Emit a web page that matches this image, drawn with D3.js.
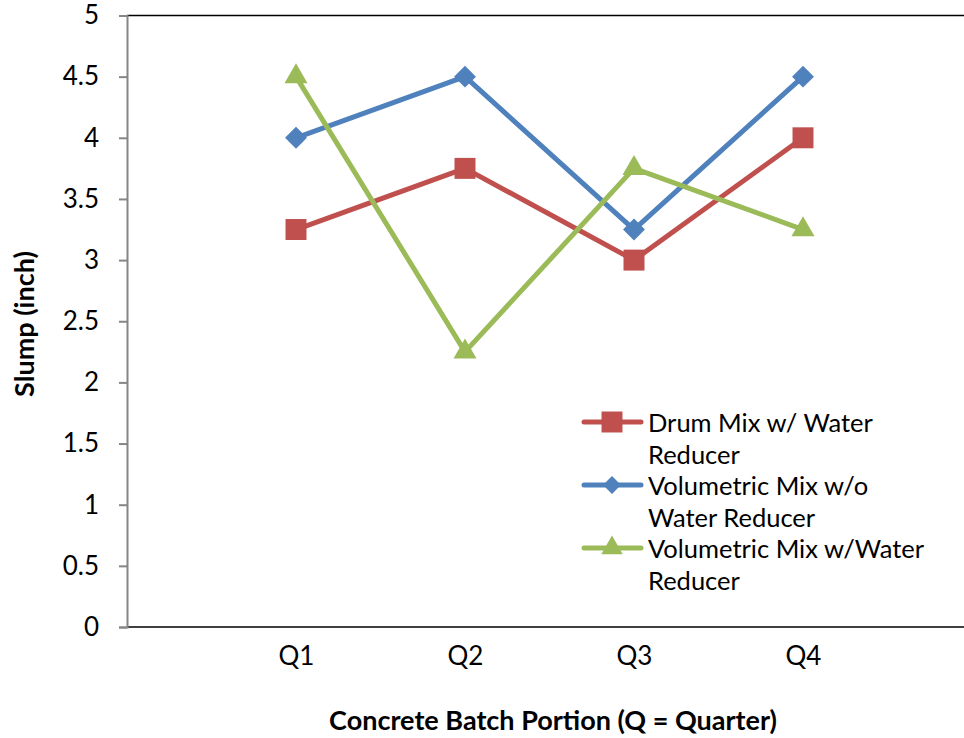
<!DOCTYPE html>
<html><head><meta charset="utf-8">
<script src="https://cdn.jsdelivr.net/npm/d3@7"></script>
<style>body{margin:0;background:#fff}svg{display:block}text{font-family:Lato,"Open Sans",sans-serif}</style>
</head><body>
<svg id="c" width="964" height="738"></svg>
<script>
const categories = ["Q1","Q2","Q3","Q4"];
const drumMix = [3.25, 3.75, 3.0, 4.0];
const volNoReducer = [4.0, 4.5, 3.25, 4.5];
const volReducer = [4.5, 2.25, 3.75, 3.25];
const seriesNames = [["Drum Mix w/ Water","Reducer"],["Volumetric Mix w/o","Water Reducer"],["Volumetric Mix w/Water","Reducer"]];
const yTicks = [0,0.5,1,1.5,2,2.5,3,3.5,4,4.5,5];

(function(){
const series = [
  {name: seriesNames[0], values: drumMix, color: "#C0504D", sym: d3.symbolSquare, size: 440, lsize: 440, rot: 0},
  {name: seriesNames[1], values: volNoReducer, color: "#4F81BD", sym: d3.symbolSquare, size: 240, lsize: 160, rot: 45},
  {name: seriesNames[2], values: volReducer, color: "#9BBB59", sym: d3.symbolTriangle, size: 230, lsize: 200, rot: 0}
];

const svg = d3.select("#c");
const pLeft = 127, pTop = 15.5, pBottom = 627, step = 169;
const fs = 26;
const x = d3.scalePoint().domain(categories).range([pLeft + step, pLeft + step*4]);
const y = d3.scaleLinear().domain([0,5]).range([pBottom, pTop]);

// frame
svg.append("line").attr("x1", pLeft).attr("x2", 964).attr("y1", pTop).attr("y2", pTop).attr("stroke","#000").attr("stroke-width",1.5);
svg.append("line").attr("x1", pLeft).attr("x2", 964).attr("y1", pBottom).attr("y2", pBottom).attr("stroke","#000").attr("stroke-width",1.5);

// y axis
const yAxis = d3.axisLeft(y).tickValues(yTicks).tickSize(8).tickPadding(20).tickFormat(d3.format(""));
const ga = svg.append("g").attr("transform",`translate(${pLeft},0)`).call(yAxis);
ga.select(".domain").attr("stroke","#868686").attr("stroke-width",2);
ga.selectAll(".tick line").attr("stroke","#868686").attr("stroke-width",2);
ga.selectAll(".tick text").attr("font-size",fs).attr("fill","#000").attr("font-family","Lato");

// x labels
const xa = d3.axisBottom(x).tickSize(0).tickPadding(20);
const gx = svg.append("g").attr("transform",`translate(0,${pBottom})`).call(xa);
gx.select(".domain").remove();
gx.selectAll(".tick text").attr("font-size",fs).attr("fill","#000").attr("font-family","Lato");

// lines
const line = d3.line().x((d,i)=>x(categories[i])).y(d=>y(d));
series.forEach(s=>{
  svg.append("path").datum(s.values).attr("d", line).attr("fill","none").attr("stroke", s.color).attr("stroke-width",5).attr("stroke-linejoin","round");
});
series.forEach(s=>{
  svg.selectAll(null).data(s.values).enter().append("path")
    .attr("d", d3.symbol().type(s.sym).size(s.size))
    .attr("transform",(d,i)=>`translate(${x(categories[i])},${y(d)}) rotate(${s.rot})`)
    .attr("fill", s.color);
});

// legend
const lg = svg.append("g");
series.forEach((s,i)=>{
  const cy = 422 + i*63;
  lg.append("line").attr("x1",584).attr("x2",641).attr("y1",cy).attr("y2",cy).attr("stroke",s.color).attr("stroke-width",5).attr("stroke-linecap","round");
  lg.append("path").attr("d", d3.symbol().type(s.sym).size(s.lsize)).attr("transform",`translate(612,${cy}) rotate(${s.rot})`).attr("fill",s.color);
  s.name.forEach((t,j)=>{
    lg.append("text").attr("x",648).attr("y",cy + 10 + j*32).attr("font-size",25.5).attr("fill","#000").text(t);
  });
});

// titles
svg.append("text").attr("transform","translate(34,324) rotate(-90)").attr("text-anchor","middle").attr("font-size",27).attr("font-weight","bold").text("Slump (inch)");
svg.append("text").attr("x",553).attr("y",730).attr("text-anchor","middle").attr("font-size",27).attr("font-weight","bold").text("Concrete Batch Portion (Q = Quarter)");
})();
</script>
</body></html>
